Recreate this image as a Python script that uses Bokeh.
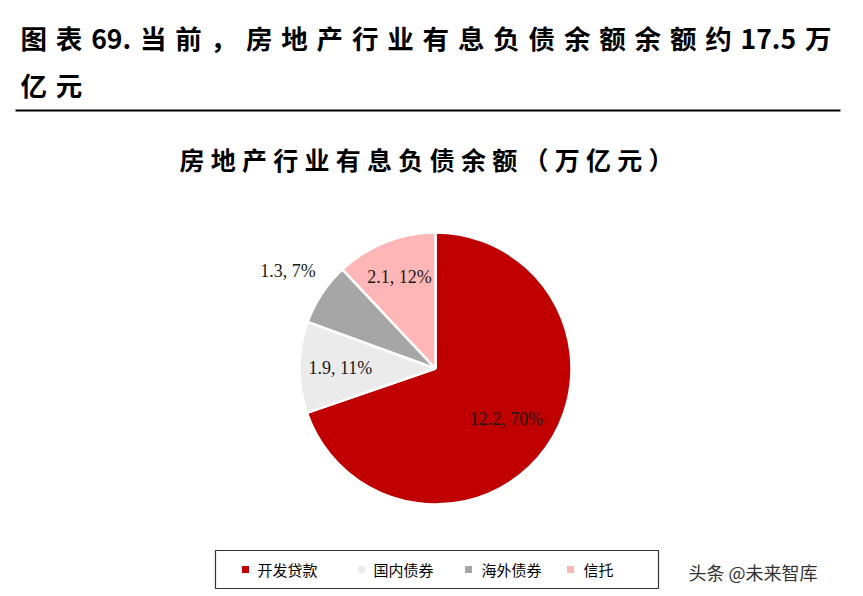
import math
from bokeh.plotting import figure
from bokeh.models import Range1d
from bokeh.core.properties import value
from bokeh.embed import file_html
from bokeh.resources import INLINE

# ---- data ----
categories = ["开发贷款", "国内债券", "海外债券", "信托"]
amounts = [12.2, 1.9, 1.3, 2.1]
colors = ["#C00000", "#EBEBEB", "#A6A6A6", "#FFB6B6"]
label_radius_factor = [0.64, 0.70, 1.30, 0.72]

title_parts1 = ["图", "表", "69.", "当", "前", "，", "房", "地", "产", "行", "业", "有", "息",
                "负", "债", "余", "额", "余", "额", "约", "17.5", "万"]
title_parts2 = ["亿", "元"]
chart_title_parts = list("房地产行业有息负债余额（万亿元）")
watermark = "头条 @未来智库"

SP = "\u2004"
SP2 = "\u2005"

# ---- layout (page pixel coordinates) ----
W, H = 855, 592


def X(px):
    return px


def Y(py):
    return H - py


p = figure(width=W, height=H, output_backend="svg", toolbar_location=None,
           x_range=Range1d(0, W), y_range=Range1d(0, H), min_border=0)
p.axis.visible = False
p.grid.visible = False
p.outline_line_color = None
p.background_fill_color = "white"

CJK = "Noto Sans CJK SC"

# header title
p.text(x=[X(20)], y=[Y(37)], text=[SP.join(title_parts1)], text_font=value(CJK),
       text_font_style="bold", text_font_size="26.5px", text_baseline="middle",
       text_align="left", text_color="#000000")
p.text(x=[X(20)], y=[Y(84)], text=[SP.join(title_parts2)], text_font=value(CJK),
       text_font_style="bold", text_font_size="26.5px", text_baseline="middle",
       text_align="left", text_color="#000000")
p.line(x=[X(15), X(840)], y=[Y(110), Y(110)], line_color="#000000", line_width=2)

# chart title
p.text(x=[X(426)], y=[Y(158)], text=[SP2.join(chart_title_parts)], text_font=value(CJK),
       text_font_style="bold", text_font_size="25px", text_baseline="middle",
       text_align="center", text_color="#000000")

# pie
cx, cy, R = X(435), Y(368), 136
total = sum(amounts)
cum = 0.0
starts, ends, lx, ly, labels = [], [], [], [], []
for i, a in enumerate(amounts):
    f0 = cum / total
    f1 = (cum + a) / total
    starts.append(math.pi / 2 - f0 * 2 * math.pi)
    ends.append(math.pi / 2 - f1 * 2 * math.pi)
    mid = (f0 + f1) / 2 * 2 * math.pi
    r = R * label_radius_factor[i]
    lx.append(cx + r * math.sin(mid))
    ly.append(cy + r * math.cos(mid))
    labels.append(f"{a:.1f}, {round(a / total * 100):.0f}%")
    cum += a

p.wedge(x=cx, y=cy, radius=R, start_angle=starts, end_angle=ends,
        direction="clock", fill_color=colors, line_color="white", line_width=2.5)

p.text(x=lx, y=ly, text=labels, text_font=value("Liberation Serif"),
       text_font_size="18px", text_align="center", text_baseline="middle",
       text_color="#1a1a1a")

# legend box
p.quad(left=[X(215)], right=[X(658)], top=[Y(550)], bottom=[Y(588)],
       fill_color=None, line_color="#333333", line_width=1.2)
marker_x = [X(245), X(361), X(468), X(570)]
text_x = [X(257), X(373), X(481), X(583)]
p.scatter(x=marker_x, y=[Y(569)] * 4, marker="square", size=7,
          fill_color=colors, line_color=None)
p.text(x=text_x, y=[Y(569)] * 4, text=categories, text_font=value(CJK),
       text_font_size="15px", text_align="left", text_baseline="middle",
       text_color="#000000")

# watermark
p.text(x=[X(688)], y=[Y(571)], text=[watermark], text_font=value(CJK),
       text_font_size="18px", text_align="left", text_baseline="middle",
       text_color="#333333")

open("out.html", "w").write(file_html(p, INLINE))
